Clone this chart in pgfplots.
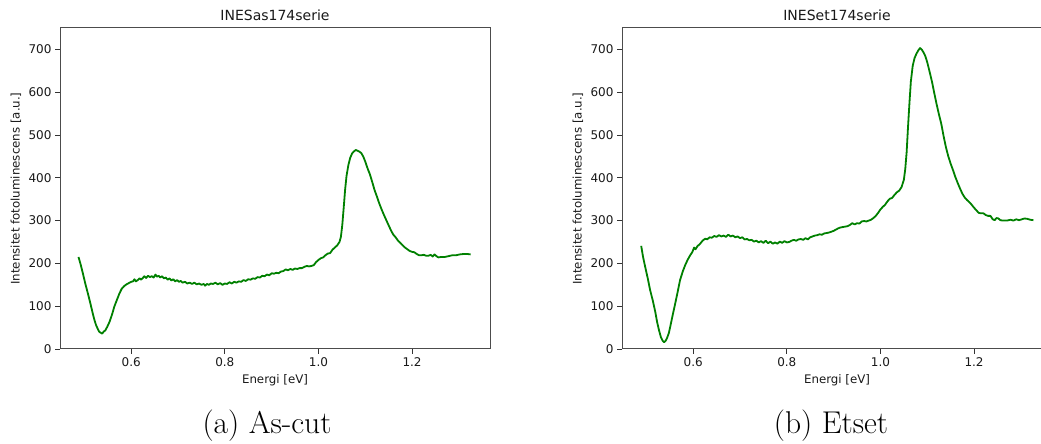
\documentclass[border=0pt]{standalone}
\usepackage{fontspec}
\newfontfamily\dejavu{DejaVu Sans}
\usepackage{pgfplots}
\usepackage{pgfplotstable}
\pgfplotsset{compat=1.18}
\definecolor{mplgreen}{HTML}{008000}

\pgfplotstableread{
x y
0.4875 215
0.492 198
0.497 176
0.502 153
0.5075 130
0.513 106
0.518 83
0.522 66
0.525 56
0.529 46
0.532 40
0.535 38
0.538 36
0.541 40
0.545 44
0.549 52
0.554 64
0.559 80
0.564 99
0.570 116
0.575 130
0.580 141
0.585 147
0.590 151
0.595 154
0.600 157
0.604 158
0.607 163
0.610 158
0.614 161
0.618 165
0.621 162
0.625 166
0.628 170
0.632 166
0.636 171
0.640 168
0.644 170
0.648 167
0.652 174
0.655 169
0.659 171
0.662 167
0.666 170
0.670 165
0.674 167
0.678 162
0.682 165
0.686 160
0.690 163
0.694 158
0.698 161
0.702 157
0.706 159
0.710 155
0.715 157
0.720 153
0.725 155
0.730 152
0.735 155
0.740 151
0.745 153
0.750 150
0.755 152
0.758 148
0.762 152
0.766 150
0.770 153
0.775 152
0.780 155
0.785 151
0.790 154
0.795 150
0.800 153
0.805 152
0.810 156
0.815 153
0.820 157
0.825 155
0.830 158
0.835 157
0.840 161
0.845 159
0.850 163
0.855 162
0.860 165
0.865 164
0.870 168
0.875 167
0.880 171
0.885 170
0.890 174
0.895 172
0.900 177
0.905 176
0.910 178
0.915 177
0.920 181
0.925 182
0.930 186
0.935 184
0.940 187
0.945 185
0.950 188
0.955 187
0.960 189
0.965 189
0.970 192
0.975 194
0.980 193
0.985 194
0.990 196
0.995 203
1.000 208
1.005 212
1.010 214
1.015 219
1.020 223
1.025 224
1.030 232
1.035 237
1.040 242
1.045 250
1.048 262
1.051 290
1.054 330
1.057 372
1.060 404
1.064 430
1.068 447
1.072 457
1.076 462
1.080 465
1.084 463
1.088 461
1.092 457
1.096 449
1.100 438
1.105 422
1.110 408
1.115 390
1.120 371
1.125 356
1.130 340
1.135 326
1.140 313
1.145 301
1.150 289
1.155 277
1.160 267
1.165 261
1.170 253
1.175 248
1.180 242
1.185 237
1.190 233
1.195 229
1.200 227
1.205 226
1.210 222
1.215 219
1.220 219
1.225 220
1.230 218
1.235 218
1.240 220
1.244 216
1.248 221
1.252 217
1.256 214
1.262 215
1.270 215
1.278 217
1.286 219
1.294 219
1.302 221
1.310 222
1.318 222
1.325 221
}\ascut

\pgfplotstableread{
x y
0.489 241
0.493 215
0.4975 192
0.503 165
0.508 138
0.514 112
0.519 87
0.523 63
0.527 44
0.531 28
0.535 19
0.538 16
0.541 19
0.544 25
0.548 37
0.551 52
0.556 78
0.5616 106
0.567 134
0.572 161
0.578 182
0.583 196
0.588 208
0.5936 219
0.598 226
0.602 237
0.605 233
0.609 240
0.615 246
0.620 253
0.626 258
0.630 256
0.635 261
0.640 260
0.645 264
0.650 262
0.655 266
0.660 263
0.665 265
0.670 262
0.675 267
0.680 263
0.685 265
0.690 261
0.695 263
0.700 259
0.705 261
0.710 256
0.715 257
0.720 254
0.725 255
0.730 251
0.735 253
0.740 249
0.745 252
0.750 248
0.755 253
0.760 247
0.765 251
0.770 246
0.775 249
0.780 246
0.785 251
0.790 248
0.795 252
0.800 249
0.805 250
0.810 253
0.815 255
0.820 253
0.825 256
0.830 257
0.835 255
0.840 259
0.845 256
0.850 261
0.855 263
0.860 265
0.865 266
0.870 268
0.875 267
0.880 270
0.885 271
0.890 272
0.895 274
0.900 276
0.905 279
0.910 282
0.915 284
0.920 285
0.925 286
0.930 287
0.935 290
0.940 294
0.945 291
0.950 294
0.955 293
0.960 298
0.965 299
0.970 298
0.975 300
0.980 302
0.985 306
0.990 311
0.995 318
1.000 326
1.005 332
1.010 337
1.015 345
1.020 351
1.025 353
1.030 360
1.035 366
1.040 370
1.045 378
1.050 395
1.053 420
1.056 460
1.059 520
1.062 575
1.065 625
1.069 662
1.073 680
1.077 690
1.081 698
1.0847 703
1.088 700
1.092 693
1.096 684
1.100 670
1.105 648
1.110 625
1.115 598
1.120 572
1.125 548
1.130 526
1.135 497
1.140 471
1.145 450
1.150 433
1.155 418
1.160 402
1.165 388
1.170 375
1.175 363
1.180 354
1.185 348
1.190 343
1.195 337
1.200 330
1.205 324
1.210 318
1.215 317
1.220 317
1.225 313
1.230 311
1.235 311
1.240 303
1.244 301
1.248 306
1.252 305
1.256 301
1.262 300
1.270 300
1.278 302
1.284 300
1.290 303
1.296 301
1.302 303
1.308 305
1.314 304
1.320 302
1.3267 301
}\etset

\pgfplotsset{
  mplstyle/.style={
    scale only axis,
    width=430pt, height=321pt,
    xmin=0.448, xmax=1.3665,
    ymin=0, ymax=750,
    xtick={0.6,0.8,1.0,1.2},
    ytick={0,100,...,700},
    xticklabel style={/pgf/number format/.cd, fixed, fixed zerofill, precision=1},
    /pgf/number format/assume math mode=true,
    tick label style={font=\dejavu\fontsize{12}{14}\selectfont, text=black!90},
    title style={font=\dejavu\fontsize{14}{16}\selectfont, text=black!90,
      at={(axis description cs:0.5,1)}, anchor=base, yshift=1pt},
    axis line style={black!70, line width=1pt},
    tick style={black!80, line width=0.9pt},
    tick align=outside,
    major tick length=5pt,
    xtick pos=bottom, ytick pos=left,
    xlabel={Energi [eV]},
    ylabel={Intensitet fotoluminescens [a.u.]},
    every axis x label/.style={at={(axis description cs:0.5,-0.0966)}, anchor=center,
      font=\dejavu\fontsize{11.8}{13}\selectfont, text=black!90},
    every axis y label/.style={at={(axis description cs:-0.1023,0.5)}, anchor=center, rotate=90,
      font=\dejavu\fontsize{11.8}{13}\selectfont, text=black!90},
  }
}

\begin{document}
\begin{tikzpicture}
\path[use as bounding box] (0pt,0pt) rectangle (1041pt,444pt);
\clip (0pt,0pt) rectangle (1041pt,444pt);
\begin{axis}[mplstyle, at={(60pt,95pt)}, anchor=south west, title={INESas174serie}]
\addplot[mplgreen, line width=1.8pt, line join=round] table[x=x,y=y] {\ascut};
\end{axis}
\begin{axis}[mplstyle, at={(622pt,95pt)}, anchor=south west, title={INESet174serie}]
\addplot[mplgreen, line width=1.8pt, line join=round] table[x=x,y=y] {\etset};
\end{axis}
\node[anchor=base, font=\fontsize{31.5}{36}\selectfont, inner sep=0pt] at (267pt,10pt) {(a) As-cut};
\node[anchor=base, font=\fontsize{31.5}{36}\selectfont, inner sep=0pt] at (831pt,10pt) {(b) Etset};
\end{tikzpicture}
\end{document}
